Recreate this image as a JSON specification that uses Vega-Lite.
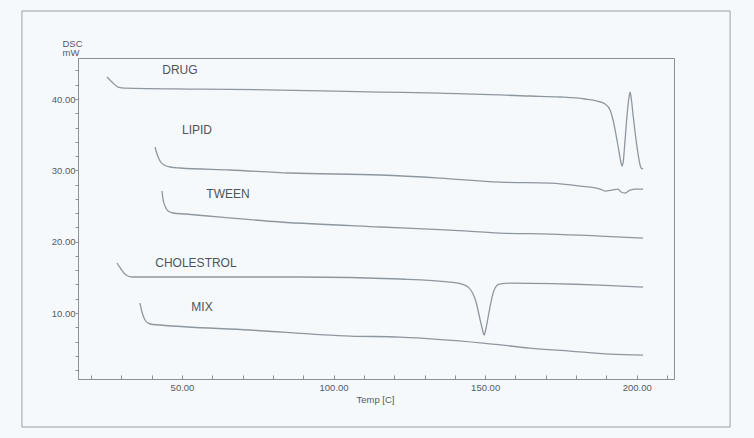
{
  "$schema": "https://vega.github.io/schema/vega-lite/v6.json",
  "width": 596,
  "height": 321,
  "autosize": "none",
  "padding": {"left": 78, "top": 58, "right": 80, "bottom": 59},
  "background": "#f5f9fc",
  "config": {
    "view": {"stroke": "#8c9196", "strokeWidth": 1},
    "axis": {
      "grid": false,
      "domainColor": "#8c9196",
      "tickColor": "#8c9196",
      "labelColor": "#555a5f",
      "titleColor": "#555a5f",
      "labelFont": "Liberation Sans",
      "titleFont": "Liberation Sans",
      "labelFontSize": 9.5,
      "titleFontSize": 9.5,
      "titleFontWeight": "normal",
      "labelOverlap": false
    }
  },
  "datasets": {
    "curves": [
      {"s":"DRUG","t":25.25,"mw":43.08},{"s":"DRUG","t":26.9,"mw":42.38},{"s":"DRUG","t":28.88,"mw":41.68},{"s":"DRUG","t":31.19,"mw":41.54},{"s":"DRUG","t":55.94,"mw":41.40},{"s":"DRUG","t":82.33,"mw":41.26},{"s":"DRUG","t":115.33,"mw":40.98},{"s":"DRUG","t":135.12,"mw":40.84},{"s":"DRUG","t":164.81,"mw":40.42},{"s":"DRUG","t":174.71,"mw":40.28},{"s":"DRUG","t":182.96,"mw":40.0},{"s":"DRUG","t":186.92,"mw":39.72},{"s":"DRUG","t":189.56,"mw":39.30},{"s":"DRUG","t":191.21,"mw":38.46},{"s":"DRUG","t":192.2,"mw":37.06},{"s":"DRUG","t":193.19,"mw":34.95},{"s":"DRUG","t":194.18,"mw":32.57},{"s":"DRUG","t":194.84,"mw":31.03},{"s":"DRUG","t":195.17,"mw":30.61},{"s":"DRUG","t":195.5,"mw":31.03},{"s":"DRUG","t":196.16,"mw":34.25},{"s":"DRUG","t":196.82,"mw":37.76},{"s":"DRUG","t":197.48,"mw":40.28},{"s":"DRUG","t":197.81,"mw":40.98},{"s":"DRUG","t":198.14,"mw":40.28},{"s":"DRUG","t":198.8,"mw":37.76},{"s":"DRUG","t":199.79,"mw":34.25},{"s":"DRUG","t":200.78,"mw":31.45},{"s":"DRUG","t":201.44,"mw":30.33},{"s":"DRUG","t":202.1,"mw":30.19},
      {"s":"LIPID","t":41.09,"mw":33.27},{"s":"LIPID","t":41.75,"mw":32.29},{"s":"LIPID","t":42.74,"mw":31.31},{"s":"LIPID","t":44.06,"mw":30.75},{"s":"LIPID","t":46.04,"mw":30.47},{"s":"LIPID","t":49.34,"mw":30.33},{"s":"LIPID","t":65.84,"mw":30.05},{"s":"LIPID","t":85.63,"mw":29.63},{"s":"LIPID","t":115.33,"mw":29.35},{"s":"LIPID","t":135.12,"mw":28.92},{"s":"LIPID","t":154.92,"mw":28.36},{"s":"LIPID","t":171.41,"mw":28.22},{"s":"LIPID","t":181.31,"mw":27.80},{"s":"LIPID","t":187.91,"mw":27.38},{"s":"LIPID","t":189.56,"mw":27.10},{"s":"LIPID","t":191.87,"mw":27.24},{"s":"LIPID","t":193.85,"mw":27.38},{"s":"LIPID","t":194.84,"mw":26.96},{"s":"LIPID","t":196.16,"mw":26.82},{"s":"LIPID","t":197.81,"mw":27.24},{"s":"LIPID","t":199.79,"mw":27.38},{"s":"LIPID","t":202.1,"mw":27.38},
      {"s":"TWEEN","t":43.40,"mw":27.10},{"s":"TWEEN","t":43.73,"mw":25.98},{"s":"TWEEN","t":44.39,"mw":25.0},{"s":"TWEEN","t":45.38,"mw":24.30},{"s":"TWEEN","t":47.03,"mw":24.02},{"s":"TWEEN","t":50.99,"mw":23.88},{"s":"TWEEN","t":82.33,"mw":22.76},{"s":"TWEEN","t":115.33,"mw":22.06},{"s":"TWEEN","t":138.42,"mw":21.63},{"s":"TWEEN","t":154.92,"mw":21.21},{"s":"TWEEN","t":171.41,"mw":21.07},{"s":"TWEEN","t":187.91,"mw":20.79},{"s":"TWEEN","t":202.1,"mw":20.51},
      {"s":"CHOLESTROL","t":28.55,"mw":17.01},{"s":"CHOLESTROL","t":29.87,"mw":16.17},{"s":"CHOLESTROL","t":31.52,"mw":15.33},{"s":"CHOLESTROL","t":33.5,"mw":15.05},{"s":"CHOLESTROL","t":55.94,"mw":15.05},{"s":"CHOLESTROL","t":88.93,"mw":15.05},{"s":"CHOLESTROL","t":121.92,"mw":14.77},{"s":"CHOLESTROL","t":138.42,"mw":14.34},{"s":"CHOLESTROL","t":142.38,"mw":14.06},{"s":"CHOLESTROL","t":144.36,"mw":13.64},{"s":"CHOLESTROL","t":145.68,"mw":12.94},{"s":"CHOLESTROL","t":147.0,"mw":11.54},{"s":"CHOLESTROL","t":147.99,"mw":9.72},{"s":"CHOLESTROL","t":148.98,"mw":7.90},{"s":"CHOLESTROL","t":149.64,"mw":6.91},{"s":"CHOLESTROL","t":150.3,"mw":7.90},{"s":"CHOLESTROL","t":151.29,"mw":10.14},{"s":"CHOLESTROL","t":152.28,"mw":12.24},{"s":"CHOLESTROL","t":153.27,"mw":13.50},{"s":"CHOLESTROL","t":154.59,"mw":14.06},{"s":"CHOLESTROL","t":158.22,"mw":14.20},{"s":"CHOLESTROL","t":187.91,"mw":13.92},{"s":"CHOLESTROL","t":202.1,"mw":13.64},
      {"s":"MIX","t":36.14,"mw":11.40},{"s":"MIX","t":36.8,"mw":10.14},{"s":"MIX","t":37.79,"mw":9.02},{"s":"MIX","t":39.44,"mw":8.46},{"s":"MIX","t":42.74,"mw":8.32},{"s":"MIX","t":72.43,"mw":7.62},{"s":"MIX","t":105.43,"mw":6.77},{"s":"MIX","t":121.92,"mw":6.63},{"s":"MIX","t":149.31,"mw":5.79},{"s":"MIX","t":164.81,"mw":5.09},{"s":"MIX","t":178.01,"mw":4.67},{"s":"MIX","t":191.21,"mw":4.25},{"s":"MIX","t":202.1,"mw":4.11}
    ],
    "labels": [
      {"label":"DRUG","t":49.3,"mw":44.07},
      {"label":"LIPID","t":54.95,"mw":35.65},
      {"label":"TWEEN","t":65.18,"mw":26.68},
      {"label":"CHOLESTROL","t":54.6,"mw":17.0},
      {"label":"MIX","t":56.6,"mw":10.84}
    ]
  },
  "layer": [
    {
      "data": {"values": [{}]},
      "mark": {"type": "rect", "fill": null, "fillOpacity": 0, "stroke": "#9aa0a6", "strokeWidth": 1, "clip": false},
      "encoding": {
        "x": {"datum": -2.8, "type": "quantitative", "scale": {"domain": [15.69, 212.3], "nice": false, "zero": false}},
        "x2": {"datum": 230.8},
        "y": {"datum": 52.34, "type": "quantitative", "scale": {"domain": [0.75, 45.75], "nice": false, "zero": false}},
        "y2": {"datum": -5.98}
      }
    },
    {
      "data": {"name": "curves"},
      "mark": {"type": "line", "stroke": "#8f979e", "strokeWidth": 1.3, "interpolate": "monotone"},
      "encoding": {
        "x": {
          "field": "t", "type": "quantitative",
          "scale": {"domain": [15.69, 212.3], "nice": false, "zero": false},
          "axis": {
            "values": [20,30,40,50,60,70,80,90,100,110,120,130,140,150,160,170,180,190,200,210],
            "tickCount": 100,
            "labelExpr": "datum.value % 50 === 0 ? format(datum.value, '.2f') : ''",
            "tickSize": -4,
            "labelPadding": 7,
            "title": "Temp  [C]",
            "titleX": 297,
            "titleY": 20,
            "titleBaseline": "middle",
            "titleAnchor": null,
            "titleAlign": "center"
          }
        },
        "y": {
          "field": "mw", "type": "quantitative",
          "scale": {"domain": [0.75, 45.75], "nice": false, "zero": false},
          "axis": {
            "values": [2,4,6,8,10,12,14,16,18,20,22,24,26,28,30,32,34,36,38,40,42,44],
            "tickCount": 100,
            "labelExpr": "datum.value % 10 === 0 ? format(datum.value, '.2f') : ''",
            "tickSize": 3,
            "labelPadding": 0,
            "title": ["DSC", "mW"],
            "titleAngle": 0,
            "titleX": -16,
            "titleY": -12,
            "titleAlign": "left",
            "titleBaseline": "alphabetic",
            "titleLineHeight": 9.5,
            "titleAnchor": null
          }
        },
        "detail": {"field": "s"}
      }
    },
    {
      "data": {"name": "labels"},
      "mark": {"type": "text", "font": "Liberation Sans", "fontSize": 12, "fill": "#4f5458", "align": "center", "baseline": "middle"},
      "encoding": {
        "x": {"field": "t", "type": "quantitative"},
        "y": {"field": "mw", "type": "quantitative"},
        "text": {"field": "label"}
      }
    }
  ]
}
